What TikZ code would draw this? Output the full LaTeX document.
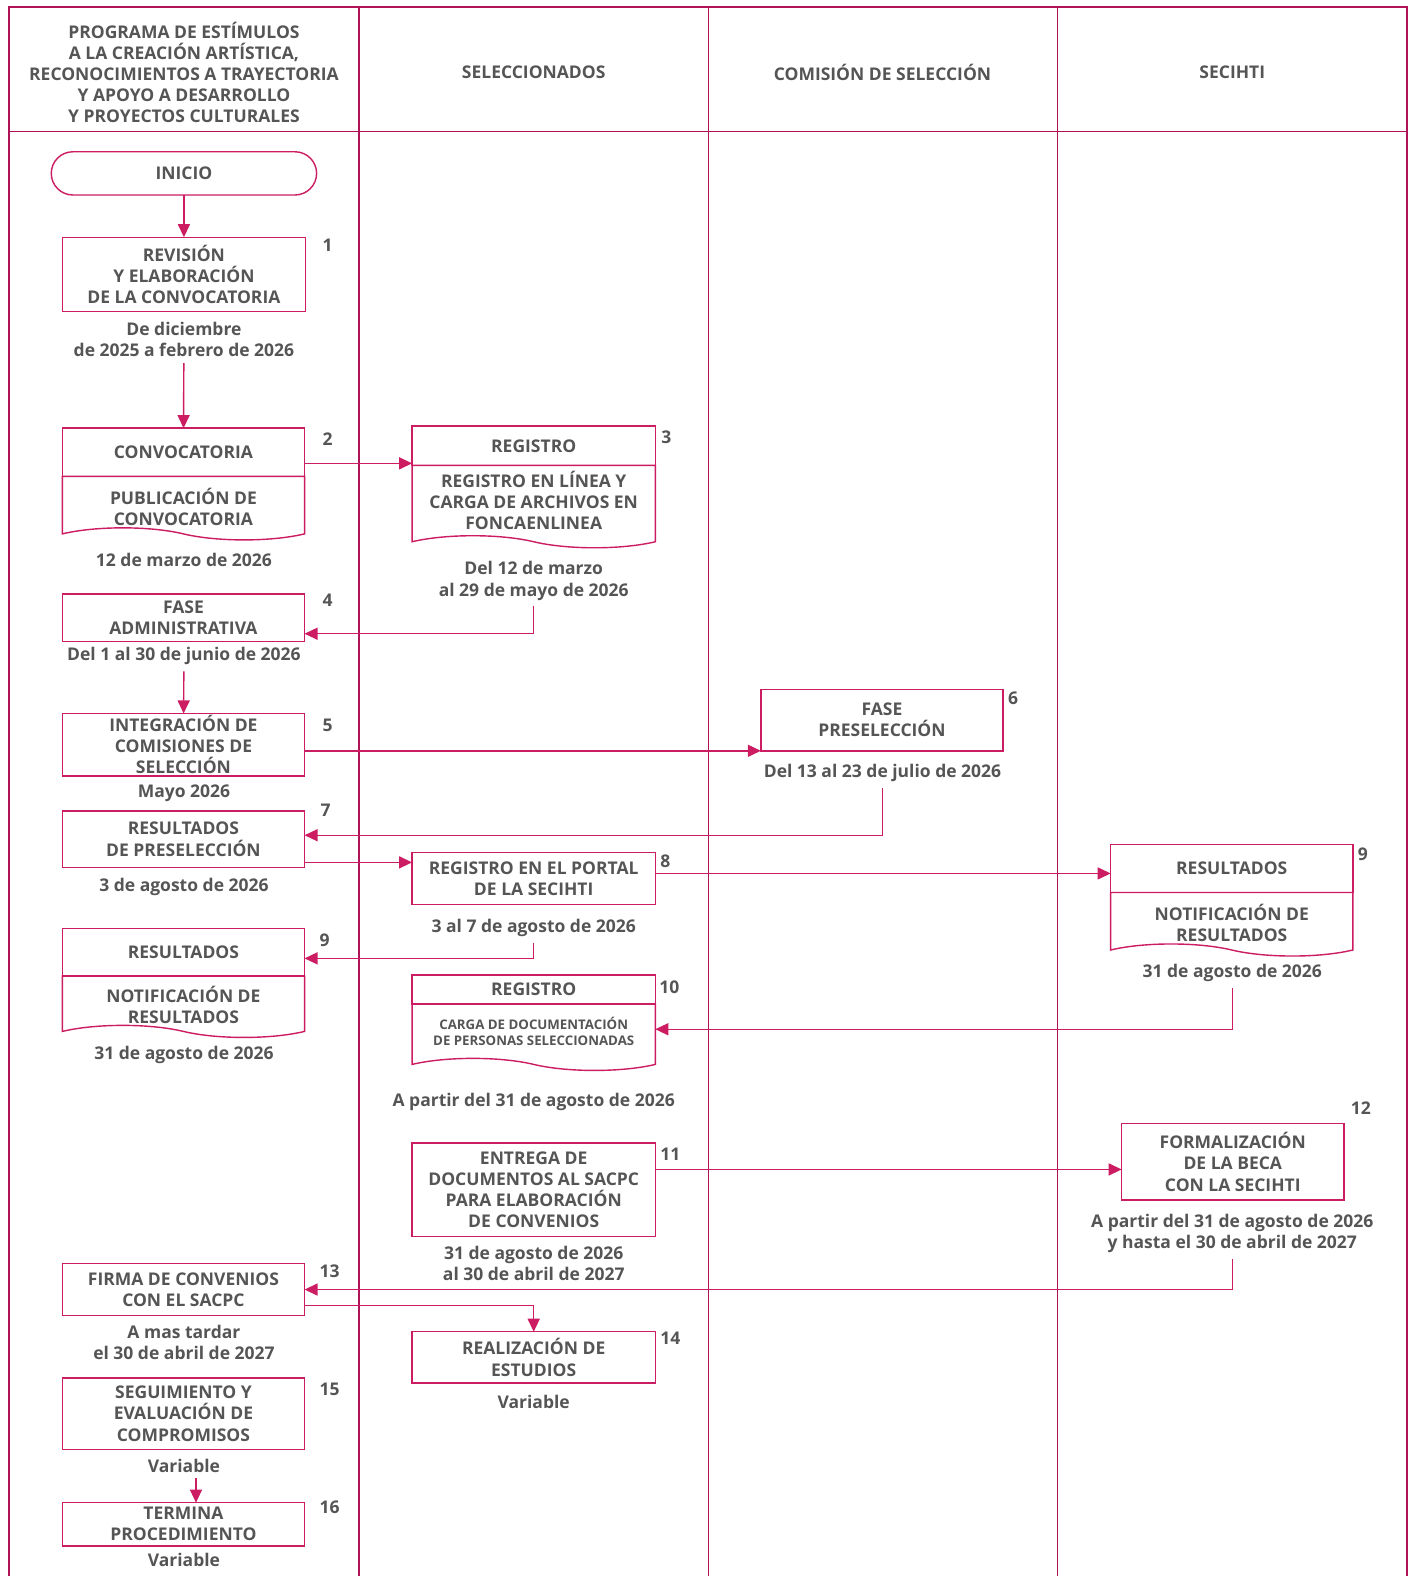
\documentclass[tikz,border=0pt]{standalone}
\usepackage{fontspec}
\IfFontExistsTF{Noto Sans Bold}
  {\setmainfont{Noto Sans}[BoldFont={Noto Sans Bold}]}
  {\setmainfont{Open Sans}}
\usetikzlibrary{arrows.meta}
\usetikzlibrary{shapes.symbols}
\definecolor{lane}{RGB}{176,18,88}
\definecolor{edge}{RGB}{204,28,98}
\definecolor{ink}{RGB}{85,85,85}

\begin{document}
\begin{tikzpicture}[x=1pt,y=-1pt,>={Triangle[length=13pt,width=12pt]}]

\tikzstyle{label}=[text=ink,font={\fontsize{17.4}{21}\selectfont\bfseries},align={center},inner sep={2pt}]
\tikzstyle{date}=[label,inner ysep={6pt}]
\tikzstyle{small}=[font={\fontsize{13.2}{15.5}\selectfont\bfseries}]
\tikzstyle{activity}=[label,draw=edge,line width={1.4pt},outer sep={0pt},rectangle,minimum width={241pt}]
\tikzstyle{title}=[activity,anchor={north}]
\tikzstyle{document}=[activity,tape,tape bend top={none},tape bend bottom={out and in},tape bend height={12pt},anchor={north}]
\tikzstyle{flow}=[->,draw=edge,line width={1.4pt}]

\useasboundingbox (0,0) rectangle (1405,1568) ;

% lanes

\draw [draw=lane,line width={1.5pt}] (9,1568) -- (9,7) -- (1400,7) -- (1400,1568) ;
\draw [draw=lane,line width={1.5pt}] (9,131) -- (1400,131) ;
\foreach \x in {357,705,1052}
  \draw [draw=lane,line width={1.5pt}] (\x,7) -- (\x,1568) ;

\node at (183,72) [label] (H1) {PROGRAMA DE ESTÍMULOS\\A LA CREACIÓN ARTÍSTICA,\\RECONOCIMIENTOS A TRAYECTORIA\\Y APOYO A DESARROLLO\\Y PROYECTOS CULTURALES} ;
\node at (531,72)   [label] (H2) {SELECCIONADOS} ;
\node at (878,72)   [label] (H3) {COMISIÓN DE SELECCIÓN} ;
\node at (1226,72)  [label] (H4) {SECIHTI} ;

% activities: programa

\node at (183,172.5) [label,draw=edge,line width={1.4pt},outer sep={0pt},rounded corners={21.5pt},minimum width={264pt},minimum height={43pt}] (I) {\raisebox{-2pt}{INICIO}} ;

\node at (183,273) [activity,minimum height={74pt},minimum width={242pt}] (A1) {REVISIÓN\\Y ELABORACIÓN\\DE LA CONVOCATORIA} ;
\node at (326,244) [label] (N1) {1} ;
\node at (183,338) [date] (D1) {De diciembre\\de 2025 a febrero de 2026} ;

\node at (182.5,426) [title,minimum height={48pt}] (A2) {CONVOCATORIA} ;
\node at (A2.south) [document,minimum height={56pt}] (A2b) {\rule{0pt}{26pt}PUBLICACIÓN DE\\CONVOCATORIA} ;
\node at (326,437) [label] (N2) {2} ;
\node at (183,557) [date] (D2) {12 de marzo de 2026} ;

\node at (182.5,614.5) [activity,minimum height={47pt}] (A4) {FASE\\ADMINISTRATIVA} ;
\node at (326,597) [label] (N4) {4} ;
\node at (183,653) [date] (D4) {Del 1 al 30 de junio de 2026} ;

\node at (182.5,741) [activity,minimum height={62pt}] (A5) {INTEGRACIÓN DE\\COMISIONES DE\\SELECCIÓN} ;
\node at (326,722) [label] (N5) {5} ;
\node at (183,789) [date] (D5) {Mayo 2026} ;

\node at (182.5,835) [activity,minimum height={56pt}] (A7) {RESULTADOS\\DE PRESELECCIÓN} ;
\node at (324,806) [label] (N7) {7} ;
\node at (183,882) [date] (D7) {3 de agosto de 2026} ;

\node at (182.5,924) [title,minimum height={47pt}] (A9) {RESULTADOS} ;
\node at (A9.south) [document,minimum height={56pt}] (A9b) {\rule{0pt}{24pt}NOTIFICACIÓN DE\\RESULTADOS} ;
\node at (323,935) [label] (N9) {9} ;
\node at (183,1050) [date] (D9) {31 de agosto de 2026} ;

\node at (182.5,1283) [activity,minimum height={52pt}] (A13) {FIRMA DE CONVENIOS\\CON EL SACPC} ;
\node at (328,1265) [label] (N13) {13} ;
\node at (183,1336) [date] (D13) {A mas tardar\\el 30 de abril de 2027} ;

\node at (182.5,1406.5) [activity,minimum height={71pt}] (A15) {SEGUIMIENTO Y\\EVALUACIÓN DE\\COMPROMISOS} ;
\node at (328,1382) [label] (N15) {15} ;
\node at (183,1458) [date] (D15) {Variable} ;

\node at (182.5,1516.5) [activity,minimum height={43pt}] (A16) {TERMINA\\PROCEDIMIENTO} ;
\node at (328,1500) [label] (N16) {16} ;
\node at (183,1552) [date] (D16) {Variable} ;

% activities: seleccionados

\node at (531,424) [title,minimum height={39pt},minimum width={242pt}] (A3) {REGISTRO} ;
\node at (A3.south) [document,minimum height={82pt},minimum width={242pt}] (A3b) {REGISTRO EN LÍNEA Y\\CARGA DE ARCHIVOS EN\\FONCAENLINEA} ;
\node at (663,435) [label] (N3) {3} ;
\node at (531,578) [date] (D3) {Del 12 de marzo\\al 29 de mayo de 2026} ;

\node at (531,874) [activity,minimum height={52pt},minimum width={242pt}] (A8) {REGISTRO EN EL PORTAL\\DE LA SECIHTI} ;
\node at (662,857) [label] (N8) {8} ;
\node at (531,923) [date] (D8) {3 al 7 de agosto de 2026} ;

\node at (531,970) [title,minimum height={29pt},minimum width={242pt}] (A10) {REGISTRO} ;
\node at (A10.south) [document,small,minimum height={66pt},minimum width={242pt}] (A10b) {CARGA DE DOCUMENTACIÓN\\DE PERSONAS SELECCIONADAS} ;
\node at (666,982) [label] (N10) {10} ;
\node at (531,1096) [date] (D10) {A partir del 31 de agosto de 2026} ;

\node at (531,1183.5) [activity,minimum height={93pt},minimum width={242pt}] (A11) {ENTREGA DE\\DOCUMENTOS AL SACPC\\PARA ELABORACIÓN\\DE CONVENIOS} ;
\node at (667,1148) [label] (N11) {11} ;
\node at (531,1257) [date] (D11) {31 de agosto de 2026\\al 30 de abril de 2027} ;

\node at (531,1350.5) [activity,minimum height={51pt},minimum width={242pt}] (A14) {REALIZACIÓN DE\\ESTUDIOS} ;
\node at (667,1331) [label] (N14) {14} ;
\node at (531,1395) [date] (D14) {Variable} ;

% activities: comision de seleccion

\node at (877.5,716.5) [activity,minimum height={61pt}] (A6) {FASE\\PRESELECCIÓN} ;
\node at (1008,695) [label] (N6) {6} ;
\node at (878,769) [date] (D6) {Del 13 al 23 de julio de 2026} ;

% activities: secihti

\node at (1225.5,840) [title,minimum height={48pt}] (B9) {RESULTADOS} ;
\node at (B9.south) [document,minimum height={57pt}] (B9b) {\rule{0pt}{26pt}NOTIFICACIÓN DE\\RESULTADOS} ;
\node at (1356,850) [label] (M9) {9} ;
\node at (1226,968) [date] (E9) {31 de agosto de 2026} ;

\node at (1226.5,1156) [activity,minimum height={76pt},minimum width={221pt}] (B12) {FORMALIZACIÓN\\DE LA BECA\\CON LA SECIHTI} ;
\node at (1354,1103) [label] (M12) {12} ;
\node at (1226,1227) [date] (E12) {A partir del 31 de agosto de 2026\\y hasta el 30 de abril de 2027} ;

% connections

\draw [flow] (I) -- (A1) ;
\draw [flow] (D1) -- (A2) ;
\draw [flow] ([yshift=-11pt]A2.east) -- ([yshift=-11pt]A2.east -| A3.west) ;
\draw [flow] (D3.south) |- ([yshift=-16pt]A4.east) ;
\draw [flow] (D4) -- (A5) ;
\draw [flow] ([yshift=-6pt]A5.east) -- ([yshift=-6pt]A5.east -| A6.west) ;
\draw [flow] (D6.south) |- ([yshift=4pt]A7.east) ;
\draw [flow] ([yshift=-23pt]A7.east) -- ([yshift=-23pt]A7.east -| A8.west) ;
\draw [flow] ([yshift=5pt]A8.east) -- ([yshift=5pt]A8.east -| B9.west) ;
\draw [flow] (D8.south) |- ([yshift=-6pt]A9.east) ;
\draw [flow] (E9.south) |- ([yshift=2pt]A10b.east) ;
\draw [flow] ([yshift=20pt]A11.east) -- ([yshift=20pt]A11.east -| B12.west) ;
\draw [flow] (E12.south) |- (A13.east) ;
\draw [flow] ([yshift=-16pt]A13.east) -| (A14.north) ;
\draw [flow] ([xshift=12pt]D15.south) -- ([xshift=12pt]D15.south |- A16.north) ;

\end{tikzpicture}
\end{document}
